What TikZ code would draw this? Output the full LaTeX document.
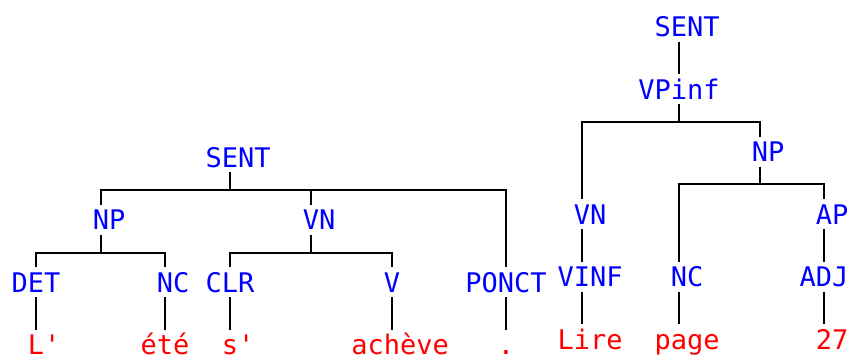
\documentclass[tikz,border=0pt]{standalone}
\usepackage{fontspec}
\setmonofont{DejaVu Sans Mono}
\newcommand{\pd}{\hphantom{0}}
\begin{document}
\begin{tikzpicture}[x=1pt,y=-1pt,
  lab/.style={font=\ttfamily\fontsize{27}{30}\selectfont, inner sep=0pt, outer sep=5pt,
              text height=19.7pt, text depth=0pt, anchor=base},
  cat/.style={lab, text=blue},
  word/.style={lab, text=red},
  edge/.style={draw=black, line width=2.2pt}]
\useasboundingbox (0,0) rectangle (849,354);
% ---------- left tree ----------
\coordinate (lbarA) at (0,190);
\coordinate (lbarB) at (0,253);
\node[cat] (lsent) at (230,167) {\pd SENT};
\node[cat] (lnp) at (101,229.5) {\pd NP};
\node[cat] (lvn) at (311,229.5) {\pd VN};
\node[cat] (ldet) at (36,292) {DET};
\node[cat] (lnc) at (165,292) {\pd NC};
\node[cat] (lclr) at (230,292) {CLR};
\node[cat] (lv) at (392,292) {V};
\node[cat] (lponct) at (506,292) {PONCT};
\node[word] (wl) at (36,354.5) {\pd L'};
\node[word] (wete) at (165,354.5) {été};
\node[word] (ws) at (230,354.5) {\pd s'};
\node[word] (wach) at (392,354.5) {\pd achève};
\node[word] (wdot) at (506,354.5) {.};
\draw[edge] (lsent.south) -- (lsent.south |- lbarA);
\draw[edge] (lnp.north) |- (lponct.north |- lbarA) -- (lponct.north);
\draw[edge] (lvn.north) -- (lvn.north |- lbarA);
\draw[edge] (lnp.south) -- (lnp.south |- lbarB);
\draw[edge] (ldet.north) |- (lnc.north |- lbarB) -- (lnc.north);
\draw[edge] (lvn.south) -- (lvn.south |- lbarB);
\draw[edge] (lclr.north) |- (lv.north |- lbarB) -- (lv.north);
\draw[edge] (ldet.south) -- (wl.north);
\draw[edge] (lnc.south) -- (wete.north);
\draw[edge] (lclr.south) -- (ws.north);
\draw[edge] (lv.south) -- (wach.north);
\draw[edge] (lponct.south) -- (wdot.north);
% ---------- right tree ----------
\coordinate (rbarA) at (0,122);
\coordinate (rbarB) at (0,184);
\node[cat] (rsent) at (679,36.5) {\pd SENT};
\node[cat] (rvpinf) at (679,99) {VPinf};
\node[cat] (rnp) at (760,161.5) {\pd NP};
\node[cat] (rvn) at (582,224) {\pd VN};
\node[cat] (rap) at (824,224) {\pd AP};
\node[cat] (rvinf) at (582,286.5) {\pd VINF};
\node[cat] (rnc) at (679,286.5) {\pd NC};
\node[cat] (radj) at (824,286.5) {ADJ};
\node[word] (wlire) at (582,349) {\pd Lire};
\node[word] (wpage) at (679,349) {\pd page};
\node[word] (w27) at (824,349) {\pd 27};
\draw[edge] (rsent.south) -- (rvpinf.north);
\draw[edge] (rvpinf.south) -- (rvpinf.south |- rbarA);
\draw[edge] (rvn.north) |- (rnp.north |- rbarA) -- (rnp.north);
\draw[edge] (rnp.south) -- (rnp.south |- rbarB);
\draw[edge] (rnc.north) |- (rap.north |- rbarB) -- (rap.north);
\draw[edge] (rvn.south) -- (rvinf.north);
\draw[edge] (rap.south) -- (radj.north);
\draw[edge] (rvinf.south) -- (wlire.north);
\draw[edge] (rnc.south) -- (wpage.north);
\draw[edge] (radj.south) -- (w27.north);
\end{tikzpicture}
\end{document}
